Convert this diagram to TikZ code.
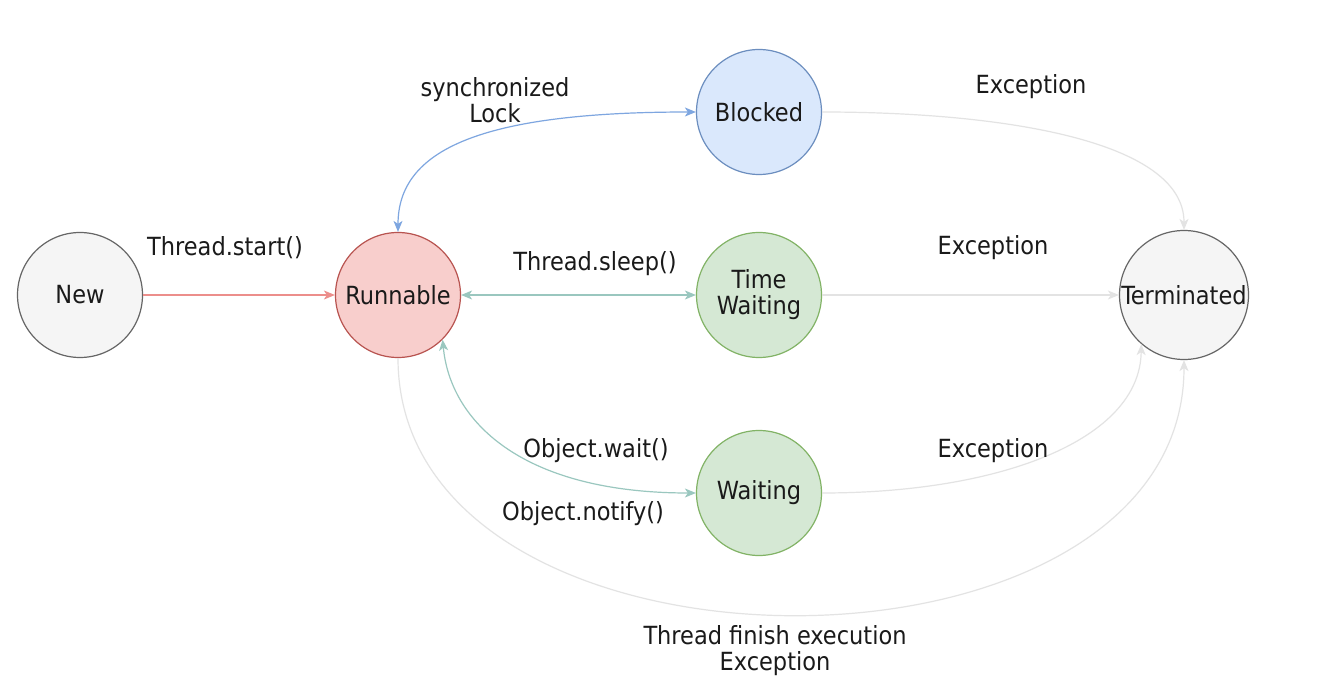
\documentclass[tikz,border=0pt]{standalone}
\usepackage{fontspec}
\setmainfont{DejaVu Sans Condensed}
\usetikzlibrary{arrows.meta}
\definecolor{txt}{HTML}{1A1A1A}
\definecolor{redE}{HTML}{EC8E8B}
\definecolor{blueE}{HTML}{7EA6E0}
\definecolor{tealE}{HTML}{9AC7BF}
\definecolor{grayE}{HTML}{E3E3E3}
\tikzset{
  state/.style={circle, minimum size=125pt, inner sep=0pt, line width=1.2pt, text=txt, align=center, font=\fontsize{25}{26}\selectfont},
  lbl/.style={text=txt, align=center, font=\fontsize{25}{26}\selectfont, inner sep=0pt},
  conn/.style={line width=1.2pt, -{Stealth[length=11pt,width=9pt,inset=3pt]}},
  biconn/.style={line width=1.2pt, {Stealth[length=11pt,width=9pt,inset=3pt]}-{Stealth[length=11pt,width=9pt,inset=3pt]}},
}
\begin{document}
\begin{tikzpicture}[x=1pt,y=-1pt]
\useasboundingbox (0,0) rectangle (1330,692);
\fill[white] (0,0) rectangle (1330,692);
\node[state, draw=black!60, fill=black!4] (new) at (80,295) {New};
\node[state, draw={rgb,255:red,184;green,84;blue,80}, fill={rgb,255:red,248;green,206;blue,204}] (run) at (398,295) {Runnable};
\node[state, draw={rgb,255:red,108;green,142;blue,191}, fill={rgb,255:red,218;green,232;blue,252}] (blk) at (759,112) {Blocked};
\node[state, draw={rgb,255:red,130;green,179;blue,102}, fill={rgb,255:red,213;green,232;blue,212}] (tw) at (759,295) {Time\\Waiting};
\node[state, draw={rgb,255:red,130;green,179;blue,102}, fill={rgb,255:red,213;green,232;blue,212}] (wt) at (759,493) {Waiting};
\node[state, minimum size=129pt, draw=black!60, fill=black!4] (term) at (1184,295) {Terminated};

% edges
\draw[conn, redE] (new.east) -- (run.west);
\draw[biconn, blueE] (run.north) .. controls (398,150) and (480,112) .. (blk.west);
\draw[biconn, tealE] (run.east) -- (tw.west);
\draw[biconn, tealE] (run.-45) .. controls (450,420) and (520,493) .. (wt.west);
\draw[conn, grayE] (blk.east) .. controls (1000,112) and (1184,140) .. (term.north);
\draw[conn, grayE] (tw.east) -- (term.west);
\draw[conn, grayE] (wt.east) .. controls (1000,493) and (1140,440) .. (term.-131);
\draw[conn, grayE] (run.south) .. controls (398,700) and (1184,700) .. (term.south);

% labels
\node[lbl] (l1) at (225,248) {Thread.start()};
\node[lbl] (l2) at (495,100) {synchronized\\Lock};
\node[lbl] (l3) at (595,264) {Thread.sleep()};
\node[lbl] (l4) at (596,451) {Object.wait()};
\node[lbl] (l5) at (583,514) {Object.notify()};
\node[lbl] (l6) at (1031,87) {Exception};
\node[lbl] (l7) at (993,248) {Exception};
\node[lbl] (l8) at (993,451) {Exception};
\node[lbl] (l9) at (775,651) {Thread finish execution\\Exception};
\end{tikzpicture}
\end{document}
